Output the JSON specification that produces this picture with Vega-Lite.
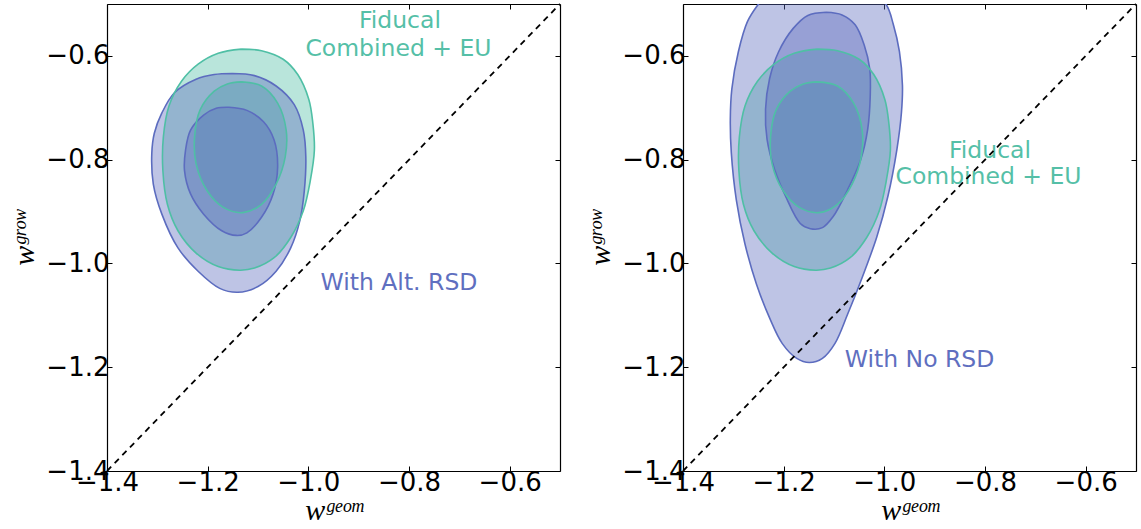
{
  "$schema": "https://vega.github.io/schema/vega-lite/v6.json",
  "autosize": {"type": "pad"},
  "padding": {"left": 9, "top": 0, "right": 5, "bottom": 5},
  "background": "white",
  "spacing": 123,
  "bounds": "flush",
  "config": {
    "view": {"stroke": null},
    "axis": {
      "grid": false,
      "domain": true,
      "domainColor": "black",
      "domainWidth": 1.2,
      "tickColor": "black",
      "tickWidth": 1,
      "tickSize": -5,
      "labelFont": "DejaVu Sans",
      "labelFontSize": 26,
      "labelColor": "black",
      "labelFlush": false,
      "labelOverlap": false,
      "titleFont": "Liberation Serif",
      "titleFontStyle": "italic",
      "titleFontWeight": "normal",
      "titleFontSize": 30,
      "titleColor": "black",
      "zindex": 1
    }
  },
  "datasets": {
    "fid_out": [
      {"x": -1.133, "y": -0.587}, {"x": -1.093, "y": -0.590}, {"x": -1.050, "y": -0.6065}, {"x": -1.021, "y": -0.636},
      {"x": -0.999, "y": -0.684}, {"x": -0.991, "y": -0.730}, {"x": -0.988, "y": -0.782}, {"x": -0.996, "y": -0.840},
      {"x": -1.010, "y": -0.8985}, {"x": -1.035, "y": -0.950}, {"x": -1.068, "y": -0.989}, {"x": -1.107, "y": -1.009},
      {"x": -1.136, "y": -1.013}, {"x": -1.179, "y": -1.006}, {"x": -1.223, "y": -0.980}, {"x": -1.259, "y": -0.937},
      {"x": -1.280, "y": -0.886}, {"x": -1.289, "y": -0.821}, {"x": -1.288, "y": -0.756}, {"x": -1.277, "y": -0.697},
      {"x": -1.252, "y": -0.649}, {"x": -1.219, "y": -0.616}, {"x": -1.179, "y": -0.595}, {"x": -1.133, "y": -0.587}
    ],
    "fid_in": [
      {"x": -1.133, "y": -0.650}, {"x": -1.093, "y": -0.658}, {"x": -1.061, "y": -0.691}, {"x": -1.044, "y": -0.743},
      {"x": -1.046, "y": -0.795}, {"x": -1.064, "y": -0.847}, {"x": -1.093, "y": -0.886}, {"x": -1.130, "y": -0.902},
      {"x": -1.169, "y": -0.892}, {"x": -1.201, "y": -0.860}, {"x": -1.223, "y": -0.808}, {"x": -1.226, "y": -0.756},
      {"x": -1.215, "y": -0.704}, {"x": -1.187, "y": -0.668}, {"x": -1.161, "y": -0.654}, {"x": -1.133, "y": -0.650}
    ],
    "alt_out": [
      {"x": -1.151, "y": -0.634}, {"x": -1.107, "y": -0.638}, {"x": -1.064, "y": -0.658}, {"x": -1.028, "y": -0.694},
      {"x": -1.010, "y": -0.743}, {"x": -1.005, "y": -0.795}, {"x": -1.008, "y": -0.860}, {"x": -1.017, "y": -0.918},
      {"x": -1.035, "y": -0.970}, {"x": -1.064, "y": -1.015}, {"x": -1.100, "y": -1.0445}, {"x": -1.140, "y": -1.0555},
      {"x": -1.176, "y": -1.048}, {"x": -1.219, "y": -1.015}, {"x": -1.259, "y": -0.970}, {"x": -1.291, "y": -0.905},
      {"x": -1.308, "y": -0.847}, {"x": -1.311, "y": -0.788}, {"x": -1.306, "y": -0.749}, {"x": -1.291, "y": -0.710},
      {"x": -1.266, "y": -0.671}, {"x": -1.223, "y": -0.645}, {"x": -1.187, "y": -0.636}, {"x": -1.151, "y": -0.634}
    ],
    "alt_in": [
      {"x": -1.158, "y": -0.699}, {"x": -1.122, "y": -0.705}, {"x": -1.089, "y": -0.727}, {"x": -1.068, "y": -0.762},
      {"x": -1.061, "y": -0.814}, {"x": -1.070, "y": -0.866}, {"x": -1.093, "y": -0.911}, {"x": -1.122, "y": -0.941},
      {"x": -1.143, "y": -0.946}, {"x": -1.172, "y": -0.937}, {"x": -1.208, "y": -0.905}, {"x": -1.234, "y": -0.866},
      {"x": -1.246, "y": -0.821}, {"x": -1.244, "y": -0.782}, {"x": -1.234, "y": -0.743}, {"x": -1.208, "y": -0.714},
      {"x": -1.183, "y": -0.701}, {"x": -1.158, "y": -0.699}
    ],
    "nor_out": [
      {"x": -1.218, "y": -0.462}, {"x": -1.123, "y": -0.443}, {"x": -1.044, "y": -0.462}, {"x": -0.997, "y": -0.500},
      {"x": -0.982, "y": -0.540}, {"x": -0.970, "y": -0.592}, {"x": -0.964, "y": -0.657}, {"x": -0.966, "y": -0.709},
      {"x": -0.975, "y": -0.780}, {"x": -0.993, "y": -0.871}, {"x": -1.015, "y": -0.949}, {"x": -1.044, "y": -1.027},
      {"x": -1.073, "y": -1.098}, {"x": -1.098, "y": -1.154}, {"x": -1.123, "y": -1.183}, {"x": -1.149, "y": -1.191},
      {"x": -1.174, "y": -1.183}, {"x": -1.203, "y": -1.154}, {"x": -1.228, "y": -1.105}, {"x": -1.254, "y": -1.040},
      {"x": -1.277, "y": -0.962}, {"x": -1.294, "y": -0.878}, {"x": -1.304, "y": -0.787}, {"x": -1.306, "y": -0.722},
      {"x": -1.303, "y": -0.664}, {"x": -1.290, "y": -0.592}, {"x": -1.272, "y": -0.534}, {"x": -1.250, "y": -0.500},
      {"x": -1.218, "y": -0.462}
    ],
    "nor_in": [
      {"x": -1.116, "y": -0.516}, {"x": -1.084, "y": -0.521}, {"x": -1.058, "y": -0.540}, {"x": -1.040, "y": -0.579},
      {"x": -1.029, "y": -0.625}, {"x": -1.028, "y": -0.677}, {"x": -1.033, "y": -0.741}, {"x": -1.047, "y": -0.800},
      {"x": -1.073, "y": -0.858}, {"x": -1.102, "y": -0.910}, {"x": -1.123, "y": -0.931}, {"x": -1.147, "y": -0.933},
      {"x": -1.167, "y": -0.923}, {"x": -1.196, "y": -0.871}, {"x": -1.218, "y": -0.819}, {"x": -1.233, "y": -0.761},
      {"x": -1.236, "y": -0.703}, {"x": -1.228, "y": -0.644}, {"x": -1.210, "y": -0.592}, {"x": -1.181, "y": -0.547},
      {"x": -1.152, "y": -0.522}, {"x": -1.116, "y": -0.516}
    ],
    "diag": [{"x": -1.4, "y": -1.4}, {"x": -0.5, "y": -0.5}],
    "lab_left": [
      {"x": -0.818, "y": -0.5463, "text": "Fiducal", "grp": "fid"},
      {"x": -0.821, "y": -0.6002, "text": "Combined + EU", "grp": "fid"},
      {"x": -0.820, "y": -1.0512, "text": "With Alt. RSD", "grp": "alt"}
    ],
    "lab_right": [
      {"x": -0.790, "y": -0.7968, "text": "Fiducal", "grp": "fid"},
      {"x": -0.793, "y": -0.8469, "text": "Combined + EU", "grp": "fid"},
      {"x": -0.930, "y": -1.1995, "text": "With No RSD", "grp": "alt"}
    ]
  },
  "hconcat": [
    {
      "width": 453,
      "height": 467,
      "resolve": {"axis": {"x": "independent", "y": "independent"}},
      "layer": [
        {"data": {"name": "fid_out"}, "mark": {"type": "line", "interpolate": "catmull-rom", "fill": "#4fbfa5", "fillOpacity": 0.4, "strokeOpacity": 0, "clip": true},
         "encoding": {
           "x": {"field": "x", "type": "quantitative", "scale": {"domain": [-1.4, -0.5], "nice": false, "zero": false},
                 "axis": {"orient": "bottom", "values": [-1.4, -1.2, -1.0, -0.8, -0.6], "format": ".1f", "title": "wᵍᵉᵒᵐ", "labelPadding": 3, "titlePadding": 0}},
           "y": {"field": "y", "type": "quantitative", "scale": {"domain": [-1.4, -0.5], "nice": false, "zero": false},
                 "axis": {"orient": "left", "values": [-1.4, -1.2, -1.0, -0.8, -0.6], "format": ".1f", "title": "wᵍʳᵒʷ", "labelPadding": 3, "titlePadding": 6}},
           "order": {"value": null}}},
        {"data": {"name": "fid_in"}, "mark": {"type": "line", "interpolate": "catmull-rom", "fill": "#4fbfa5", "fillOpacity": 0.4, "strokeOpacity": 0, "clip": true},
         "encoding": {"x": {"field": "x", "type": "quantitative", "axis": null}, "y": {"field": "y", "type": "quantitative", "axis": null}, "order": {"value": null}}},
        {"data": {"name": "alt_out"}, "mark": {"type": "line", "interpolate": "catmull-rom", "fill": "#5c6cbf", "fillOpacity": 0.4, "strokeOpacity": 0, "clip": true},
         "encoding": {"x": {"field": "x", "type": "quantitative", "axis": null}, "y": {"field": "y", "type": "quantitative", "axis": null}, "order": {"value": null}}},
        {"data": {"name": "alt_in"}, "mark": {"type": "line", "interpolate": "catmull-rom", "fill": "#5c6cbf", "fillOpacity": 0.4, "strokeOpacity": 0, "clip": true},
         "encoding": {"x": {"field": "x", "type": "quantitative", "axis": null}, "y": {"field": "y", "type": "quantitative", "axis": null}, "order": {"value": null}}},
        {"data": {"name": "alt_out"}, "mark": {"type": "line", "interpolate": "catmull-rom", "stroke": "#5c6cbf", "strokeWidth": 1.6, "clip": true},
         "encoding": {"x": {"field": "x", "type": "quantitative", "axis": null}, "y": {"field": "y", "type": "quantitative", "axis": null}, "order": {"value": null}}},
        {"data": {"name": "alt_in"}, "mark": {"type": "line", "interpolate": "catmull-rom", "stroke": "#5c6cbf", "strokeWidth": 1.6, "clip": true},
         "encoding": {"x": {"field": "x", "type": "quantitative", "axis": null}, "y": {"field": "y", "type": "quantitative", "axis": null}, "order": {"value": null}}},
        {"data": {"name": "fid_out"}, "mark": {"type": "line", "interpolate": "catmull-rom", "stroke": "#4fbfa5", "strokeWidth": 1.6, "clip": true},
         "encoding": {"x": {"field": "x", "type": "quantitative", "axis": null}, "y": {"field": "y", "type": "quantitative", "axis": null}, "order": {"value": null}}},
        {"data": {"name": "fid_in"}, "mark": {"type": "line", "interpolate": "catmull-rom", "stroke": "#4fbfa5", "strokeWidth": 1.6, "clip": true},
         "encoding": {"x": {"field": "x", "type": "quantitative", "axis": null}, "y": {"field": "y", "type": "quantitative", "axis": null}, "order": {"value": null}}},
        {"data": {"name": "lab_left"}, "mark": {"type": "text", "font": "DejaVu Sans", "fontSize": 23.5, "align": "center", "baseline": "alphabetic"},
         "encoding": {"x": {"field": "x", "type": "quantitative", "axis": null}, "y": {"field": "y", "type": "quantitative", "axis": null},
                      "text": {"field": "text"}, "color": {"field": "grp", "type": "nominal", "scale": {"domain": ["fid", "alt"], "range": ["#55bfa7", "#5f6fc0"]}, "legend": null}}},
        {"data": {"name": "diag"}, "mark": {"type": "line", "color": "black", "strokeWidth": 1.8, "strokeDash": [6, 5]},
         "encoding": {
           "x": {"field": "x", "type": "quantitative", "axis": {"orient": "top", "values": [-1.4, -1.2, -1.0, -0.8, -0.6], "labels": false, "title": null}},
           "y": {"field": "y", "type": "quantitative", "axis": {"orient": "right", "values": [-1.4, -1.2, -1.0, -0.8, -0.6], "labels": false, "title": null}}
         }}
      ]
    },
    {
      "width": 453,
      "height": 467,
      "resolve": {"axis": {"x": "independent", "y": "independent"}},
      "layer": [
        {"data": {"name": "fid_out"}, "mark": {"type": "line", "interpolate": "catmull-rom", "fill": "#4fbfa5", "fillOpacity": 0.4, "strokeOpacity": 0, "clip": true},
         "encoding": {
           "x": {"field": "x", "type": "quantitative", "scale": {"domain": [-1.4, -0.5], "nice": false, "zero": false},
                 "axis": {"orient": "bottom", "values": [-1.4, -1.2, -1.0, -0.8, -0.6], "format": ".1f", "title": "wᵍᵉᵒᵐ", "labelPadding": 3, "titlePadding": 0}},
           "y": {"field": "y", "type": "quantitative", "scale": {"domain": [-1.4, -0.5], "nice": false, "zero": false},
                 "axis": {"orient": "left", "values": [-1.4, -1.2, -1.0, -0.8, -0.6], "format": ".1f", "title": "wᵍʳᵒʷ", "labelPadding": 3, "titlePadding": 6}},
           "order": {"value": null}}},
        {"data": {"name": "fid_in"}, "mark": {"type": "line", "interpolate": "catmull-rom", "fill": "#4fbfa5", "fillOpacity": 0.4, "strokeOpacity": 0, "clip": true},
         "encoding": {"x": {"field": "x", "type": "quantitative", "axis": null}, "y": {"field": "y", "type": "quantitative", "axis": null}, "order": {"value": null}}},
        {"data": {"name": "nor_out"}, "mark": {"type": "line", "interpolate": "catmull-rom", "fill": "#5c6cbf", "fillOpacity": 0.4, "strokeOpacity": 0, "clip": true},
         "encoding": {"x": {"field": "x", "type": "quantitative", "axis": null}, "y": {"field": "y", "type": "quantitative", "axis": null}, "order": {"value": null}}},
        {"data": {"name": "nor_in"}, "mark": {"type": "line", "interpolate": "catmull-rom", "fill": "#5c6cbf", "fillOpacity": 0.4, "strokeOpacity": 0, "clip": true},
         "encoding": {"x": {"field": "x", "type": "quantitative", "axis": null}, "y": {"field": "y", "type": "quantitative", "axis": null}, "order": {"value": null}}},
        {"data": {"name": "nor_out"}, "mark": {"type": "line", "interpolate": "catmull-rom", "stroke": "#5c6cbf", "strokeWidth": 1.6, "clip": true},
         "encoding": {"x": {"field": "x", "type": "quantitative", "axis": null}, "y": {"field": "y", "type": "quantitative", "axis": null}, "order": {"value": null}}},
        {"data": {"name": "nor_in"}, "mark": {"type": "line", "interpolate": "catmull-rom", "stroke": "#5c6cbf", "strokeWidth": 1.6, "clip": true},
         "encoding": {"x": {"field": "x", "type": "quantitative", "axis": null}, "y": {"field": "y", "type": "quantitative", "axis": null}, "order": {"value": null}}},
        {"data": {"name": "fid_out"}, "mark": {"type": "line", "interpolate": "catmull-rom", "stroke": "#4fbfa5", "strokeWidth": 1.6, "clip": true},
         "encoding": {"x": {"field": "x", "type": "quantitative", "axis": null}, "y": {"field": "y", "type": "quantitative", "axis": null}, "order": {"value": null}}},
        {"data": {"name": "fid_in"}, "mark": {"type": "line", "interpolate": "catmull-rom", "stroke": "#4fbfa5", "strokeWidth": 1.6, "clip": true},
         "encoding": {"x": {"field": "x", "type": "quantitative", "axis": null}, "y": {"field": "y", "type": "quantitative", "axis": null}, "order": {"value": null}}},
        {"data": {"name": "lab_right"}, "mark": {"type": "text", "font": "DejaVu Sans", "fontSize": 23.5, "align": "center", "baseline": "alphabetic"},
         "encoding": {"x": {"field": "x", "type": "quantitative", "axis": null}, "y": {"field": "y", "type": "quantitative", "axis": null},
                      "text": {"field": "text"}, "color": {"field": "grp", "type": "nominal", "scale": {"domain": ["fid", "alt"], "range": ["#55bfa7", "#5f6fc0"]}, "legend": null}}},
        {"data": {"name": "diag"}, "mark": {"type": "line", "color": "black", "strokeWidth": 1.8, "strokeDash": [6, 5]},
         "encoding": {
           "x": {"field": "x", "type": "quantitative", "axis": {"orient": "top", "values": [-1.4, -1.2, -1.0, -0.8, -0.6], "labels": false, "title": null}},
           "y": {"field": "y", "type": "quantitative", "axis": {"orient": "right", "values": [-1.4, -1.2, -1.0, -0.8, -0.6], "labels": false, "title": null}}
         }}
      ]
    }
  ]
}
